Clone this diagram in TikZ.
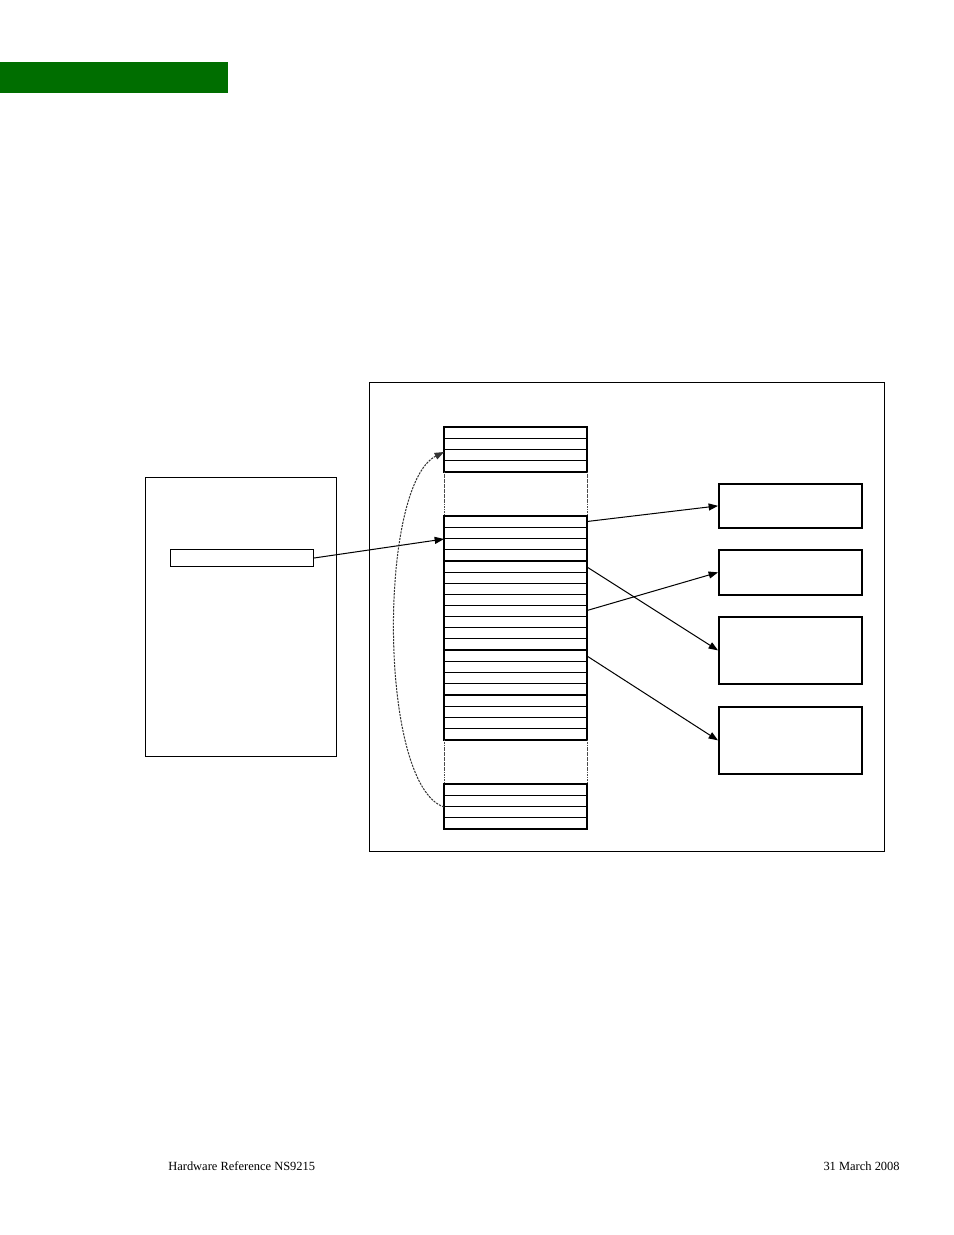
\documentclass[tikz,border=0pt]{standalone}
\usepackage{fontspec}
\setmainfont{Liberation Serif}
\usetikzlibrary{arrows.meta}
\definecolor{hdrgreen}{RGB}{0,110,0}
\tikzset{
  thinbox/.style={draw=black, line width=0.65pt, fill=white, inner sep=0pt, anchor=north west},
  targetbox/.style={draw=black, line width=1.1pt, inner sep=0pt, anchor=north west, minimum width=143\unitpx},
  memblock/.style={draw=black, line width=1.2pt},
  rowline/.style={draw=black, line width=0.65pt},
  gapline/.style={draw=black!70, line width=0.6pt, dash pattern=on 1pt off 0.6pt},
  link/.style={draw=black, line width=0.65pt, -{Triangle[length=6pt,width=4.5pt]}},
  loopline/.style={draw=black!80, line width=0.65pt, dash pattern=on 1.4pt off 0.7pt, -{Triangle[length=6pt,width=4.5pt]}},
  foot/.style={font=\fontsize{8pt}{9.6pt}\selectfont, inner sep=0pt}
}
\newlength{\unitpx}
\setlength{\unitpx}{0.6415pt}
\begin{document}
\begin{tikzpicture}[x=0.6415pt, y=-0.6415pt]
\useasboundingbox (0,0) rectangle (954,1235);
% header bar
\fill[hdrgreen] (0,62) rectangle (228,93);
% outer frame
\node[thinbox, minimum width=515\unitpx, minimum height=469\unitpx] (frame) at (369,382) {};
% left box with inner entry
\node[thinbox, minimum width=191\unitpx, minimum height=279\unitpx] (left) at (145,477) {};
\node[thinbox, minimum width=143\unitpx, minimum height=17\unitpx] (entry) at (170,549) {};
% target boxes
\node[targetbox, minimum height=44\unitpx] (ta) at (718,483) {};
\node[targetbox, minimum height=45\unitpx] (tb) at (718,549) {};
\node[targetbox, minimum height=67\unitpx] (tc) at (718,616) {};
\node[targetbox, minimum height=67\unitpx] (td) at (718,706) {};
% memory column
\foreach \t/\n in {427/4,516/4,561/8,650/4,695/4,784/4}{
  \foreach \i in {1,...,\n}{
    \draw[rowline] (444,{\t+\i*11.14}) -- (587,{\t+\i*11.14});
  }
  \draw[memblock] (444,\t) rectangle (587,{\t+\n*11.14});
}
\draw[gapline] (444,471.5) -- (444,516) (587,471.5) -- (587,516);
\draw[gapline] (444,739.5) -- (444,784) (587,739.5) -- (587,784);
% named connector ends on the memory column
\coordinate (mEntry) at (444,539);
\coordinate (mTop) at (444,452);
\coordinate (mBot) at (444,807);
\coordinate (r1) at (587,521.5);
\coordinate (r2) at (587,567);
\coordinate (r3) at (587,610.5);
\coordinate (r4) at (587,656);
% connectors
\draw[link] (entry.east) -- (mEntry);
\draw[link] (r1) -- (ta.west);
\draw[link] (r2) -- (tc.west);
\draw[link] (r3) -- (tb.west);
\draw[link] (r4) -- (td.west);
\draw[loopline] (mBot) .. controls (378,785) and (378,485) .. (mTop);
% footer
\node[foot, anchor=base west] (fl) at (168,1170) {Hardware Reference NS9215};
\node[foot, anchor=base east] (fr) at (900,1170) {31 March 2008};
\end{tikzpicture}
\end{document}
